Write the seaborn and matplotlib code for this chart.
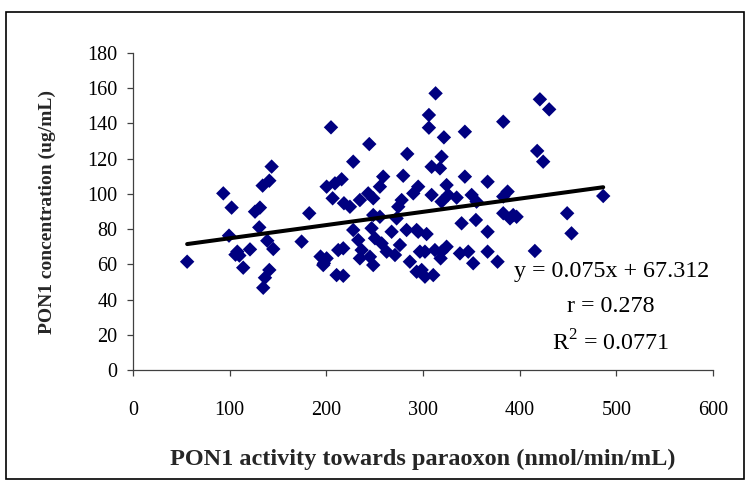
import numpy as np
import pandas as pd
import seaborn as sns
import matplotlib.pyplot as plt
from matplotlib.patches import Rectangle

# PON1 paraoxonase activity (nmol/min/mL) and PON1 concentration (ug/mL)
activity = [
    56, 93.4, 102, 99.3, 107.9, 106, 110, 114, 121, 130.6, 126.2, 131.3,
    134.1, 141, 143.4, 138.9, 145.1, 141, 136.5, 134.7, 174.4, 182.3, 194, 197.5,
    204.8, 244.4, 227.8, 283.7, 279.5, 258.8, 200.3, 208.9, 215.8, 206.5, 218.2, 224.4,
    234.7, 243.3, 248.5, 255.4, 277.9, 274.4, 289.9, 227.8, 233, 236.5, 248.5, 255.4,
    246.8, 250.3, 257.2, 262.4, 271, 245.1, 248.5, 234.7, 267.5, 276.1, 272.7, 283,
    293.4, 200.3, 196.8, 212.3, 217.5, 210.6, 217.5, 286.4, 293.4, 296.8,
    313, 306.1, 306.1, 321.6, 343.3, 383, 319.2, 308.9, 317.5, 343.3, 366.8, 295,
    324.4, 308.9, 326.1, 334.8, 319.2, 350.3, 355.4, 387.5, 383, 383, 390, 339.9,
    354.7, 366.8, 295, 303.7, 324.4, 319.2, 302, 312.3, 318.2, 338.2, 346.8, 351.9,
    366.8, 377.1, 298.6, 302, 310.6,
    420.9, 430.5, 418.1, 424.3, 486.4, 449.1, 453.6, 415.7, 393.3, 396.8,
]
concentration = [
    61.5, 100.3, 92.2, 76.3, 67.2, 65.5, 65.0, 58.1, 68.5, 81, 89.9, 92.2,
    104.7, 107.5, 115.5, 73.4, 68.7, 56.8, 52.4, 46.7, 72.9, 89, 64.4, 60.6,
    137.8, 128.3, 118.3, 122.7, 110.3, 109.8, 104.1, 106, 108.3, 97.5, 94.7, 92.7,
    96.5, 100.3, 97.5, 104.1, 96.5, 92.7, 100.3, 79.5, 73.8, 68.1, 88, 87,
    80.5, 74.8, 71.9, 67.2, 65.3, 64.3, 59.6, 63.4, 78.5, 71, 86.1, 79.5,
    79.5, 63.4, 59.6, 68.1, 69.1, 53.9, 53.5, 61.5, 55.8, 67.2,
    157.1, 144.8, 137.6, 132.1, 135.3, 141, 121.1, 115.4, 114.5, 109.8, 106.9, 104.1,
    105, 99.4, 99.4, 97.9, 95.6, 99.4, 95.6, 101.3, 98.5, 89, 86.1, 83.3,
    85.2, 78.5, 78.5, 77.2, 70, 67.2, 67.2, 68.1, 63.4, 66.2, 67.2, 60.6,
    67.2, 61.5, 56.8, 53, 53.9,
    153.7, 148, 124.4, 118.3, 98.8, 89, 77.6, 67.6, 88, 87,
]

# Least-squares trend line as reported in the annotation
slope = 0.075
intercept = 67.312
r_value = "0.278"
r_squared = "0.0771"

x_ticks = [0, 100, 200, 300, 400, 500, 600]
y_ticks = [0, 20, 40, 60, 80, 100, 120, 140, 160, 180]

df = pd.DataFrame({"activity": activity, "concentration": concentration})

sns.set_style("ticks")
plt.rcParams["font.family"] = ["Liberation Serif", "DejaVu Serif"]
plt.rcParams["mathtext.fontset"] = "custom"
plt.rcParams["mathtext.rm"] = "Liberation Serif"

fig = plt.figure(figsize=(7.46, 4.95), dpi=100)
ax = fig.add_axes([0.1783, 0.2525, 0.7775, 0.6404])

sns.scatterplot(data=df, x="activity", y="concentration", marker="D",
                color="#000080", edgecolor="none", s=54, ax=ax, zorder=2)

x_line = np.array([min(activity), max(activity)])
sns.lineplot(x=x_line, y=slope * x_line + intercept, color="black",
             linewidth=2.9, ax=ax, zorder=3)

ax.set_xlim(0, 600)
ax.set_ylim(0, 180)
ax.set_xticks(x_ticks)
ax.set_yticks(y_ticks)
ax.tick_params(axis="both", direction="out", length=4, width=0.9,
               color="#404040", labelsize=14.5, labelcolor="black")
ax.tick_params(axis="y", pad=7)
ax.tick_params(axis="x", pad=18)
for side in ("top", "right"):
    ax.spines[side].set_visible(False)
for side in ("left", "bottom"):
    ax.spines[side].set_color("#404040")
    ax.spines[side].set_linewidth(0.9)

ax.set_xlabel("PON1 activity towards paraoxon (nmol/min/mL)",
              fontsize=17.5, fontweight="bold", labelpad=21)
ax.set_ylabel("PON1 concentration (ug/mL)",
              fontsize=14, fontweight="bold", labelpad=23)

eq_kw = dict(fontsize=17.3, ha="center", va="center", color="black")
ax.text(495, 56, f"y = {slope}x + {intercept}", **eq_kw)
ax.text(494, 36.3, f"r = {r_value}", **eq_kw)
ax.text(494, 15.5, r"R$^\mathrm{2}$ = " + r_squared, **eq_kw)

fig.add_artist(Rectangle((6 / 746, (495 - 479) / 495), (744 - 6) / 746,
                         (479 - 12) / 495, transform=fig.transFigure,
                         fill=False, edgecolor="black", linewidth=1.2))

fig.savefig("out.png", dpi=100)
